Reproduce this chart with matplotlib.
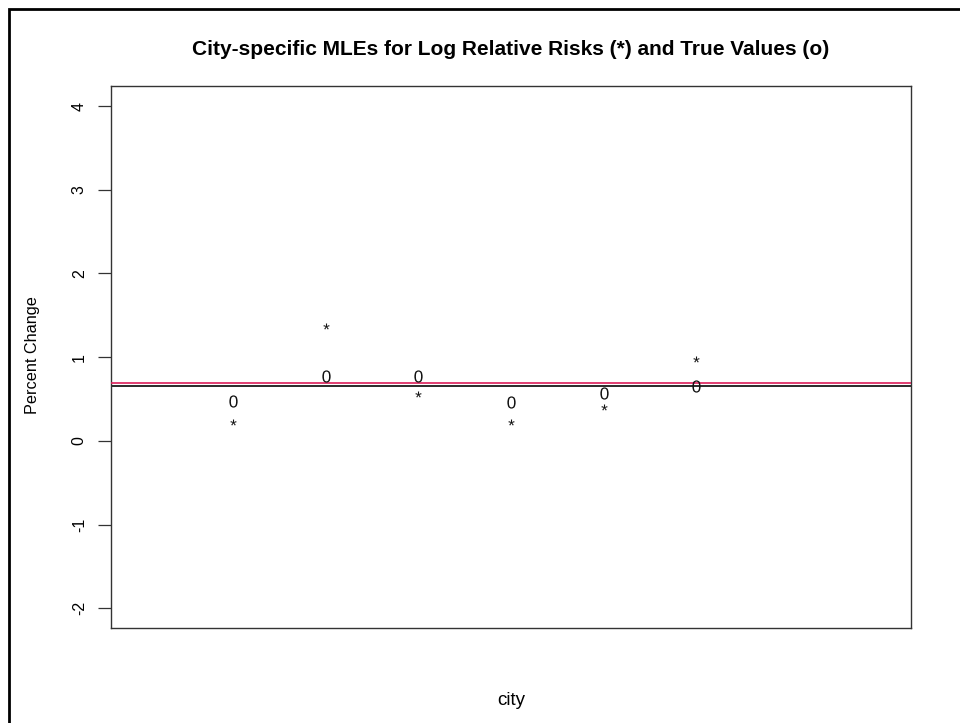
import matplotlib
matplotlib.use('Agg')
import numpy as np
import matplotlib.pyplot as plt
from matplotlib.textpath import TextPath
from matplotlib.font_manager import FontProperties
from matplotlib.path import Path
from matplotlib.patches import Rectangle

# ---- data ----
city = [1, 2, 3, 4, 5, 6]
mle = [0.22, 1.37, 0.56, 0.23, 0.41, 0.98]          # '*'
true_vals = [0.48, 0.78, 0.78, 0.47, 0.57, 0.66]    # '0'
ref_red = 0.69
ref_black = 0.65
yticks = [-2, -1, 0, 1, 2, 3, 4]
xrange_ = (0, 8)
yrange_ = (-2, 4)

FONT = 'Liberation Sans'


def glyph_marker(ch):
    tp = TextPath((0, 0), ch, size=10, prop=FontProperties(family=FONT))
    verts = np.array(tp.vertices, dtype=float)
    codes = np.array(tp.codes)
    real = codes != Path.CLOSEPOLY
    x0, y0 = verts[real].min(axis=0)
    x1, y1 = verts[real].max(axis=0)
    c = np.array([(x0 + x1) / 2, (y0 + y1) / 2])
    verts[~real] = c
    return Path(verts - c, codes)


def rpad(lo, hi):
    d = (hi - lo) * 0.04
    return lo - d, hi + d


W, H = 960, 723
fig = plt.figure(figsize=(W / 100, H / 100), dpi=100)
ax = fig.add_axes([111 / W, 1 - 628.3 / H, 800 / W, (628.3 - 86) / H])

ax.axhline(ref_black, color='#2a2a2a', lw=1.4, zorder=2)
ax.axhline(ref_red, color='#dc1e5a', lw=1.2, zorder=3)

ax.plot(city, true_vals, linestyle='none', marker=glyph_marker('0'),
        markersize=8.8, markerfacecolor='#111111', markeredgewidth=0, zorder=4)
ax.plot(city, mle, linestyle='none', marker=glyph_marker('*'),
        markersize=4.4, markerfacecolor='#111111', markeredgewidth=0, zorder=4)

ax.set_xlim(*rpad(*xrange_))
ax.set_ylim(*rpad(*yrange_))
ax.set_xticks([])
ax.set_yticks(yticks)
ax.set_yticklabels([str(t) for t in yticks], fontfamily=FONT, fontsize=11.5,
                   rotation=90, va='center')
ax.tick_params(axis='y', direction='out', length=9.4, width=0.9, pad=8,
               color='#333333')
for s in ax.spines.values():
    s.set_linewidth(1.0)
    s.set_color('#333333')

fig.text(511 / W, 1 - 55.3 / H,
         'City-specific MLEs for Log Relative Risks (*) and True Values (o)',
         ha='center', va='baseline', fontsize=15, fontweight='bold',
         family=FONT)
fig.text(511 / W, 1 - 705 / H, 'city', ha='center', va='baseline',
         fontsize=13.5, family=FONT)
fig.text(32 / W, 1 - 355 / H, 'Percent Change', ha='center', va='center',
         rotation=90, fontsize=11.7, family=FONT)

# outer frame (extends beyond the right and bottom edges)
fig.patches.append(Rectangle((8.7 / W, -0.2), 1.5, 1.2 - 8.7 / H,
                             transform=fig.transFigure, fill=False,
                             lw=2.0, edgecolor='black'))

fig.savefig('out.png', dpi=100)
